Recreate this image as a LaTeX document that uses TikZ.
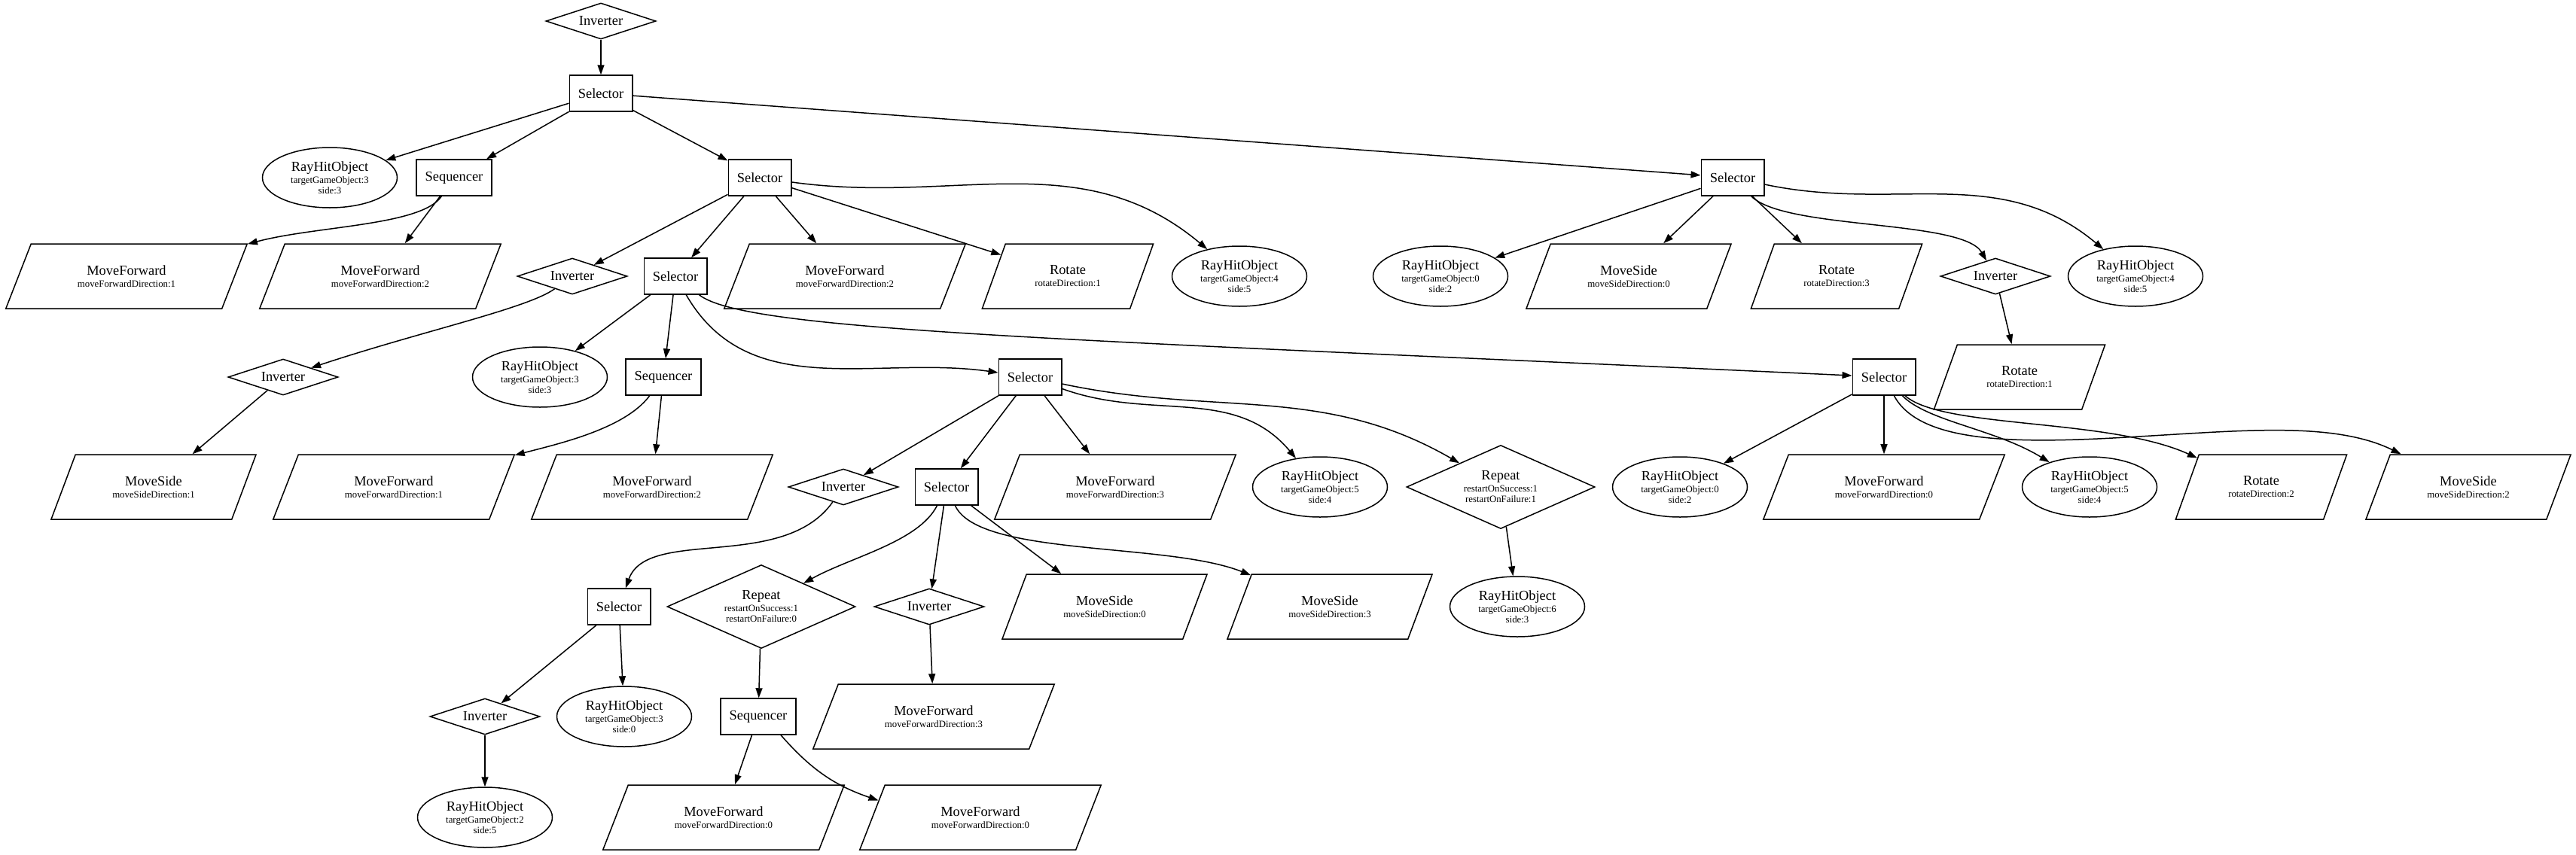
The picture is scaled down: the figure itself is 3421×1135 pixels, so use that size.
\documentclass[tikz,border=0pt]{standalone}
\usepackage{fontspec}
\setmainfont{Liberation Serif}
\usetikzlibrary{shapes.geometric,arrows.meta}
\newcommand{\sm}{\fontsize{6.4}{7}\selectfont}
\begin{document}
\begin{tikzpicture}[x=0.5pt, y=-0.5pt,
    every node/.style={font=\fontsize{9.2}{7}\selectfont, align=center, line width=0.75pt},
    ctrlbox/.style={draw, rectangle, minimum width=41pt, minimum height=24pt, inner xsep=5.8pt, inner ysep=1pt},
    invnode/.style={draw, diamond, aspect=3, minimum width=73pt, minimum height=24pt, inner sep=0pt},
    repnode/.style={draw, diamond, aspect=2.25, minimum width=125pt, minimum height=55.5pt, inner sep=0pt},
    hitnode/.style={draw, ellipse, minimum width=89.5pt, minimum height=40pt, inner sep=0pt},
    actbox/.style={draw, trapezium, trapezium left angle=61, trapezium right angle=119, trapezium stretches=true, minimum height=43pt, inner xsep=2pt, inner ysep=1pt},
    fwdbox/.style={actbox, minimum width=161pt},
    sidebox/.style={actbox, minimum width=137pt},
    rotbox/.style={actbox, minimum width=114pt},
    link/.style={-{Triangle[length=6.5pt,width=4.5pt]}, line width=0.75pt}]
    \useasboundingbox (0,0) rectangle (3421,1135);

    \node[invnode] (inv0) at (798,28) {Inverter};
    \node[ctrlbox] (sel0) at (798,124) {Selector};

    \node[hitnode] (ray1) at (438,236) {RayHitObject\\[1pt]\sm targetGameObject:3\\\sm side:3};
    \node[ctrlbox] (seq1) at (603,236) {Sequencer};
    \node[ctrlbox] (sel1) at (1009,236) {Selector};
    \node[ctrlbox] (sel2) at (2301,236) {Selector};

    \node[fwdbox] (mf1) at (168,367) {MoveForward\\[1pt]\sm moveForwardDirection:1};
    \node[fwdbox] (mf2) at (505,367) {MoveForward\\[1pt]\sm moveForwardDirection:2};
    \node[invnode] (inv1) at (760,367) {Inverter};
    \node[ctrlbox] (sel3) at (897,367) {Selector};
    \node[fwdbox] (mf3) at (1122,367) {MoveForward\\[1pt]\sm moveForwardDirection:2};
    \node[rotbox] (rot1) at (1418,367) {Rotate\\[1pt]\sm rotateDirection:1};
    \node[hitnode] (ray2) at (1646,367) {RayHitObject\\[1pt]\sm targetGameObject:4\\\sm side:5};
    \node[hitnode] (ray3) at (1913,367) {RayHitObject\\[1pt]\sm targetGameObject:0\\\sm side:2};
    \node[sidebox] (ms1) at (2163,367) {MoveSide\\[1pt]\sm moveSideDirection:0};
    \node[rotbox] (rot2) at (2439,367) {Rotate\\[1pt]\sm rotateDirection:3};
    \node[invnode] (inv2) at (2650,367) {Inverter};
    \node[hitnode] (ray4) at (2836,367) {RayHitObject\\[1pt]\sm targetGameObject:4\\\sm side:5};

    \node[invnode] (inv3) at (376,501) {Inverter};
    \node[hitnode] (ray5) at (717,501) {RayHitObject\\[1pt]\sm targetGameObject:3\\\sm side:3};
    \node[ctrlbox] (seq2) at (881,501) {Sequencer};
    \node[ctrlbox] (sel4) at (1368,501) {Selector};
    \node[ctrlbox] (sel5) at (2502,501) {Selector};
    \node[rotbox] (rot3) at (2682,501) {Rotate\\[1pt]\sm rotateDirection:1};

    \node[sidebox] (ms2) at (204,647) {MoveSide\\[1pt]\sm moveSideDirection:1};
    \node[fwdbox] (mf4) at (523,647) {MoveForward\\[1pt]\sm moveForwardDirection:1};
    \node[fwdbox] (mf5) at (866,647) {MoveForward\\[1pt]\sm moveForwardDirection:2};
    \node[invnode] (inv4) at (1120,647) {Inverter};
    \node[ctrlbox] (sel6) at (1257,647) {Selector};
    \node[fwdbox] (mf6) at (1481,647) {MoveForward\\[1pt]\sm moveForwardDirection:3};
    \node[hitnode] (ray6) at (1753,647) {RayHitObject\\[1pt]\sm targetGameObject:5\\\sm side:4};
    \node[repnode] (rep1) at (1993,647) {Repeat\\[1pt]\sm restartOnSuccess:1\\\sm restartOnFailure:1};
    \node[hitnode] (ray7) at (2231,647) {RayHitObject\\[1pt]\sm targetGameObject:0\\\sm side:2};
    \node[fwdbox] (mf7) at (2502,647) {MoveForward\\[1pt]\sm moveForwardDirection:0};
    \node[hitnode] (ray8) at (2775,647) {RayHitObject\\[1pt]\sm targetGameObject:5\\\sm side:4};
    \node[rotbox] (rot4) at (3003,647) {Rotate\\[1pt]\sm rotateDirection:2};
    \node[sidebox] (ms3) at (3278,647) {MoveSide\\[1pt]\sm moveSideDirection:2};

    \node[ctrlbox] (sel7) at (822,806) {Selector};
    \node[repnode] (rep2) at (1011,806) {Repeat\\[1pt]\sm restartOnSuccess:1\\\sm restartOnFailure:0};
    \node[invnode] (inv5) at (1234,806) {Inverter};
    \node[sidebox] (ms4) at (1467,806) {MoveSide\\[1pt]\sm moveSideDirection:0};
    \node[sidebox] (ms5) at (1766,806) {MoveSide\\[1pt]\sm moveSideDirection:3};
    \node[hitnode] (ray9) at (2015,806) {RayHitObject\\[1pt]\sm targetGameObject:6\\\sm side:3};

    \node[invnode] (inv6) at (644,952) {Inverter};
    \node[hitnode] (ray10) at (829,952) {RayHitObject\\[1pt]\sm targetGameObject:3\\\sm side:0};
    \node[ctrlbox] (seq3) at (1007,952) {Sequencer};
    \node[fwdbox] (mf8) at (1240,952) {MoveForward\\[1pt]\sm moveForwardDirection:3};

    \node[hitnode] (ray11) at (644,1086) {RayHitObject\\[1pt]\sm targetGameObject:2\\\sm side:5};
    \node[fwdbox] (mf9) at (961,1086) {MoveForward\\[1pt]\sm moveForwardDirection:0};
    \node[fwdbox] (mf10) at (1302,1086) {MoveForward\\[1pt]\sm moveForwardDirection:0};

    \draw[link] (inv0) -- (sel0);
    \draw[link] (sel0) -- (ray1);
    \draw[link] (sel0) -- (seq1);
    \draw[link] (sel0) -- (sel1);
    \draw[link] (sel0) -- (sel2);
    \draw[link] (seq1) .. controls (560,300) and (420,300) .. (mf1);
    \draw[link] (seq1) -- (mf2);
    \draw[link] (sel1) -- (inv1);
    \draw[link] (sel1) -- (sel3);
    \draw[link] (sel1) -- (mf3);
    \draw[link] (sel1) -- (rot1);
    \draw[link] (sel1) to[out=-8,in=140] (ray2);
    \draw[link] (sel2) -- (ray3);
    \draw[link] (sel2) -- (ms1);
    \draw[link] (sel2) -- (rot2);
    \draw[link] (sel2) to[out=-45,in=120,looseness=0.5] (inv2);
    \draw[link] (sel2) to[out=-12,in=140] (ray4);
    \draw[link] (inv2) -- (rot3);
    \draw[link] (inv1) .. controls (700,410) and (560,440) .. (inv3);
    \draw[link] (inv3) -- (ms2);
    \draw[link] (sel3) -- (ray5);
    \draw[link] (sel3) -- (seq2);
    \draw[link] (sel3) to[out=-60,in=172] (sel4);
    \draw[link] (sel3) .. controls (990,440) and (1400,450) .. (sel5);
    \draw[link] (seq2) .. controls (830,570) and (740,590) .. (mf4);
    \draw[link] (seq2) -- (mf5);
    \draw[link] (sel4) -- (inv4);
    \draw[link] (sel4) -- (sel6);
    \draw[link] (sel4) -- (mf6);
    \draw[link] (sel4) to[out=-20,in=130] (ray6);
    \draw[link] (sel4) to[out=-12,in=150] (rep1);
    \draw[link] (sel5) -- (ray7);
    \draw[link] (sel5) -- (mf7);
    \draw[link] (sel5) .. controls (2560,560) and (2650,570) .. (ray8);
    \draw[link] (sel5) .. controls (2580,570) and (2800,555) .. (rot4);
    \draw[link] (sel5) .. controls (2550,590) and (2680,590) .. (2840,580)
        .. controls (2980,572) and (3100,560) .. (ms3);
    \draw[link] (rep1) -- (ray9);
    \draw[link] (inv4) .. controls (1040,760) and (860,700) .. (sel7);
    \draw[link] (sel6) .. controls (1220,720) and (1130,740) .. (rep2);
    \draw[link] (sel6) -- (inv5);
    \draw[link] (sel6) -- (ms4);
    \draw[link] (sel6) .. controls (1300,740) and (1550,720) .. (ms5);
    \draw[link] (sel7) -- (inv6);
    \draw[link] (sel7) -- (ray10);
    \draw[link] (inv6) -- (ray11);
    \draw[link] (rep2) -- (seq3);
    \draw[link] (inv5) -- (mf8);
    \draw[link] (seq3) -- (mf9);
    \draw[link] (seq3) to[bend right=15] (mf10);
\end{tikzpicture}
\end{document}
